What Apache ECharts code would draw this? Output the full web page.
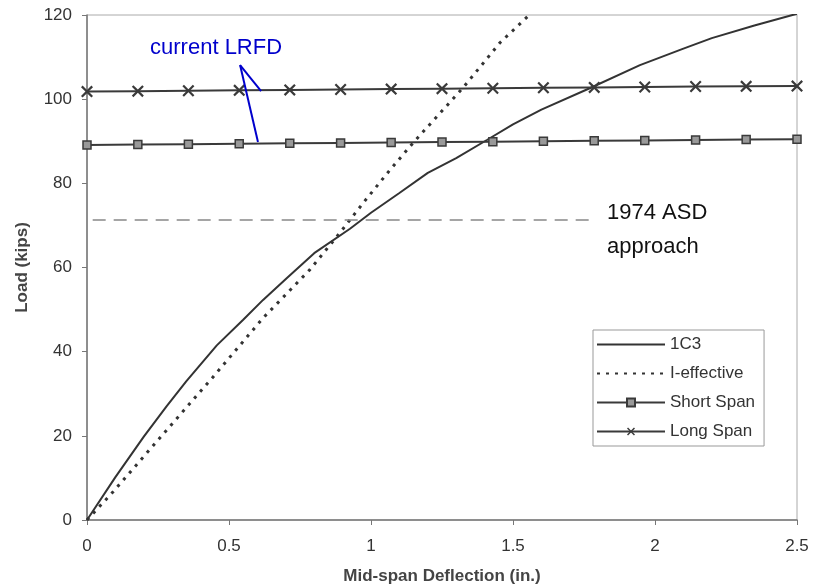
<!DOCTYPE html>
<html>
<head>
<meta charset="utf-8">
<script src="https://cdn.jsdelivr.net/npm/echarts@6/dist/echarts.min.js"></script>
<style>html,body{margin:0;padding:0;background:#fff}#c{width:814px;height:588px}</style>
</head>
<body>
<div id="c"></div>
<script>
// ---- data ----
const c3X = [0, 0.1, 0.2, 0.28, 0.35, 0.457, 0.55, 0.62, 0.704, 0.8, 0.926, 1.0, 1.1, 1.2, 1.3, 1.408, 1.5, 1.6, 1.77, 1.947, 2.1, 2.2, 2.35, 2.5];
const c3Y = [0, 10.2, 19.8, 27, 33, 41.5, 47.6, 52.3, 57.5, 63.4, 69.2, 73, 77.7, 82.5, 86, 90.3, 94, 97.5, 102.6, 108.1, 112, 114.5, 117.5, 120.3];
const ieffX = [0, 0.092, 0.268, 0.444, 0.62, 0.785, 0.89, 0.972, 1.067, 1.148, 1.324, 1.454, 1.565];
const ieffY = [0, 6.7, 20.4, 34, 48, 59.5, 68.2, 75.3, 83.2, 89.6, 102.7, 113.4, 120.5];
const spanX = [0, 0.179, 0.357, 0.536, 0.714, 0.893, 1.071, 1.25, 1.429, 1.607, 1.786, 1.964, 2.143, 2.321, 2.5];
const shortSpanY = [89.1, 89.2, 89.3, 89.4, 89.5, 89.6, 89.7, 89.8, 89.9, 90.0, 90.1, 90.2, 90.3, 90.4, 90.5];
const longSpanY = [101.8, 101.9, 102.0, 102.1, 102.2, 102.3, 102.4, 102.5, 102.6, 102.7, 102.8, 102.9, 103.0, 103.05, 103.1];
const xTicks = ['0', '0.5', '1', '1.5', '2', '2.5'];
const yTicks = ['0', '20', '40', '60', '80', '100', '120'];
const asdLevel = 71.3;
const asdRange = [0.02, 1.77];
const lrfdLeaderFrom = [0.539, 108.1];
const lrfdLeaderTo = [[0.613, 101.9], [0.602, 89.8]];
const lrfdTextAt = [0.222, 112.2];
const asdTextAt = [1.831, 69.0];

const zip = (xs, ys) => xs.map((x, i) => [x, ys[i]]);
const FONT = '"Liberation Sans", Arial, sans-serif';
const xMark = 'path://M1.3,0 L5,3.7 L8.7,0 L10,1.3 L6.3,5 L10,8.7 L8.7,10 L5,6.3 L1.3,10 L0,8.7 L3.7,5 L0,1.3 Z';

const chart = echarts.init(document.getElementById('c'));
chart.setOption({
  animation: false,
  backgroundColor: '#fff',
  grid: { left: 87, right: 17, top: 15, bottom: 68, outerBoundsMode: 'none', containLabel: false, show: true, borderColor: '#aaa', borderWidth: 1, backgroundColor: 'transparent' },
  xAxis: {
    type: 'value', min: 0, max: 2.5, interval: 0.5,
    name: 'Mid-span Deflection (in.)', nameLocation: 'middle', nameGap: 48,
    nameTextStyle: { fontFamily: FONT, fontSize: 17, fontWeight: 'bold', color: '#444' },
    axisLine: { show: true, onZero: false, lineStyle: { color: '#777', width: 1.5 } },
    axisTick: { show: true, length: 5, lineStyle: { color: '#777' } },
    axisLabel: { fontFamily: FONT, fontSize: 17, color: '#333', margin: 18, formatter: (v) => xTicks[Math.round(v / 0.5)] },
    splitLine: { show: false }
  },
  yAxis: {
    type: 'value', min: 0, max: 120, interval: 20,
    name: 'Load (kips)', nameLocation: 'middle', nameGap: 56, nameRotate: 90,
    nameTextStyle: { fontFamily: FONT, fontSize: 17, fontWeight: 'bold', color: '#444' },
    axisLine: { show: true, onZero: false, lineStyle: { color: '#777', width: 1.5 } },
    axisTick: { show: true, length: 5, lineStyle: { color: '#777' } },
    axisLabel: { fontFamily: FONT, fontSize: 17, color: '#333', margin: 15, formatter: (v) => yTicks[Math.round(v / 20)] },
    splitLine: { show: false }
  },
  legend: {
    orient: 'vertical', left: 593, top: 330,
    padding: [6, 9, 6, 3], itemGap: 12, itemWidth: 68, itemHeight: 10,
    backgroundColor: '#fff', borderColor: '#999', borderWidth: 1,
    textStyle: { fontFamily: FONT, fontSize: 17, color: '#333', lineHeight: 17 },
    data: [
      { name: '1C3', itemStyle: { opacity: 0 } },
      { name: 'I-effective', itemStyle: { opacity: 0 } },
      { name: 'Short Span' },
      { name: 'Long Span' }
    ]
  },
  series: [
    {
      name: '1C3', type: 'line', data: zip(c3X, c3Y), symbol: 'none',
      lineStyle: { color: '#333', width: 2 }, itemStyle: { color: '#333' },
      markLine: {
        silent: true, symbol: 'none', label: { show: false },
        lineStyle: { color: '#888', width: 1.5, type: [13, 8] },
        data: [[{ coord: [asdRange[0], asdLevel] }, { coord: [asdRange[1], asdLevel] }]]
      }
    },
    {
      name: 'I-effective', type: 'line', data: zip(ieffX, ieffY), symbol: 'none',
      lineStyle: { color: '#333', width: 3, type: [3, 6] }, itemStyle: { color: '#333' },
      markLine: {
        silent: true, symbol: 'none', label: { show: false },
        lineStyle: { color: '#0000cc', width: 2, type: 'solid' },
        data: lrfdLeaderTo.map(p => [{ coord: lrfdLeaderFrom }, { coord: p }])
      }
    },
    {
      name: 'Short Span', type: 'line', data: zip(spanX, shortSpanY),
      symbol: 'rect', symbolSize: 8, showAllSymbol: true,
      lineStyle: { color: '#3a3a3a', width: 2 },
      itemStyle: { color: '#999', borderColor: '#3a3a3a', borderWidth: 1.5 }
    },
    {
      name: 'Long Span', type: 'line', data: zip(spanX, longSpanY),
      symbol: xMark, symbolSize: 12, showAllSymbol: true,
      lineStyle: { color: '#3a3a3a', width: 2 },
      itemStyle: { color: '#3a3a3a', borderWidth: 0 }
    }
  ]
});

const pLrfd = chart.convertToPixel({ gridIndex: 0 }, lrfdTextAt);
const pAsd = chart.convertToPixel({ gridIndex: 0 }, asdTextAt);
chart.setOption({
  graphic: [
    { type: 'text', x: pLrfd[0], y: pLrfd[1], style: { text: 'current LRFD', fontFamily: FONT, fontSize: 22, fill: '#0000cc', verticalAlign: 'middle' } },
    { type: 'text', x: pAsd[0], y: pAsd[1], style: { text: '1974 ASD\napproach', fontFamily: FONT, fontSize: 22, lineHeight: 34, fill: '#111', verticalAlign: 'middle' } }
  ]
});
</script>
</body>
</html>
